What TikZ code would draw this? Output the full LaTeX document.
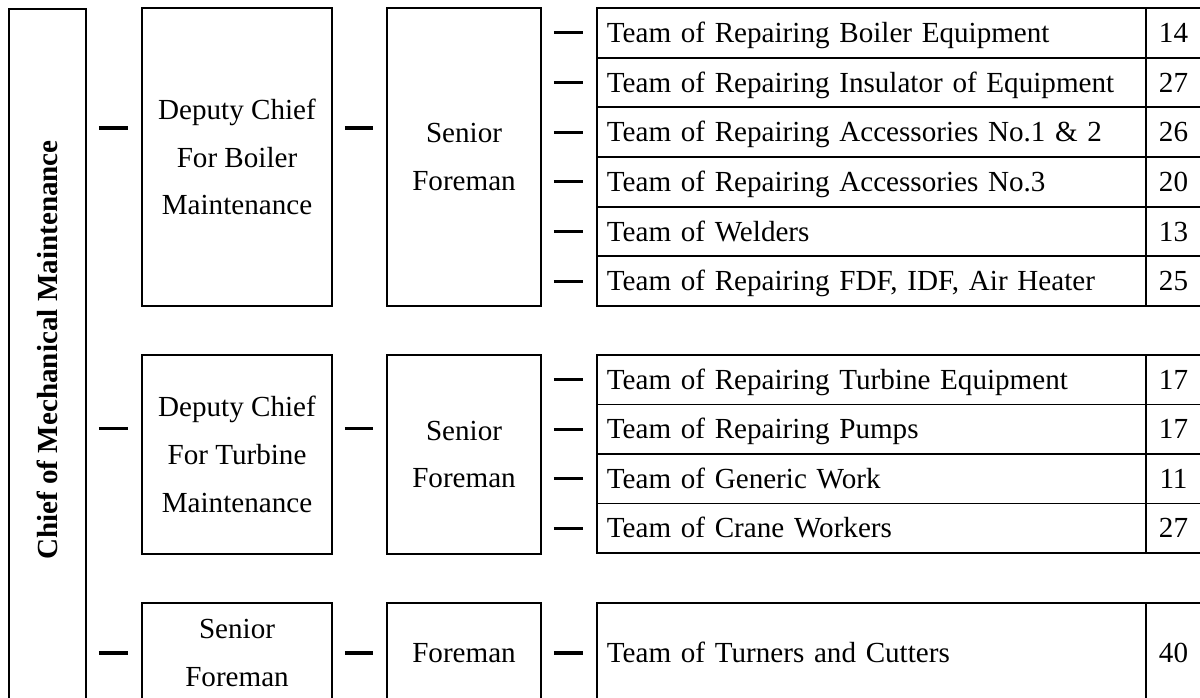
\documentclass[tikz,border=0pt]{standalone}
\usepackage{fontspec}
\setmainfont{Liberation Serif}
\usepackage{tikz}

\begin{document}
\begin{tikzpicture}[
    x=0.025cm, y=-0.025cm,
    every node/.style={font=\fontsize{20.7}{34}\selectfont},
    post/.style={draw, line width=1.3pt, align=center, inner sep=0pt},
    team/.style={draw, line width=1.3pt, text width=13.225cm, inner xsep=0.25cm, inner ysep=0pt, align=left,
                 text height=16pt, text depth=2.3pt},
    count/.style={draw, line width=1.3pt, minimum width=1.375cm, inner sep=0pt, text height=16pt, text depth=2.3pt},
    link/.style={line width=2.2pt, shorten <=8.5pt, shorten >=9.2pt}
]
  \clip (0,0) rectangle (1200,697);
  \fill[white] (0,0) rectangle (1200,697);

  % chief, runs the whole height
  \node[post, minimum width=1.925cm, minimum height=17.6cm, anchor=north] (chief) at (47.5,8) {};
  \node[rotate=90, font=\fontsize{20.7}{34}\selectfont\bfseries] (chieftext) at (47.5,350) {Chief of Mechanical Maintenance};

  % boiler branch
  \node[post, minimum width=4.75cm, minimum height=7.45cm] (dep1) at (237,157) {Deputy Chief\\For Boiler\\Maintenance};
  \node[post, minimum width=3.85cm, minimum height=7.45cm] (sen1) at (464,157) {Senior\\Foreman};
  \coordinate (bjoint) at ([yshift=20.6pt]dep1.west);
  \draw[link] (chief.east |- bjoint) -- (bjoint);
  \draw[link] (bjoint -| dep1.east) -- (bjoint -| sen1.west);
  \foreach \job/\staff [count=\i] in {Team of Repairing Boiler Equipment/14,
      Team of Repairing Insulator of Equipment/27,
      Team of Repairing Accessories No.1 \& 2/26,
      Team of Repairing Accessories No.3/20,
      Team of Welders/13,
      {Team of Repairing FDF, IDF, Air Heater}/25}{
    \node[team, minimum height=1.2417cm] (b\i) at (871.5,{8+(\i-0.5)*49.67}) {\job};
    \node[count, minimum height=1.2417cm] (nb\i) at (1173.5,{8+(\i-0.5)*49.67}) {\staff};
    \draw[link] (sen1.east |- b\i.west) -- (b\i.west);
  }

  % turbine branch
  \node[post, minimum width=4.75cm, minimum height=4.975cm] (dep2) at (237,454.5) {Deputy Chief\\For Turbine\\Maintenance};
  \node[post, minimum width=3.85cm, minimum height=4.975cm] (sen2) at (464,454.5) {Senior\\Foreman};
  \coordinate (tjoint) at ([yshift=18.8pt]dep2.west);
  \draw[link] (chief.east |- tjoint) -- (tjoint);
  \draw[link] (tjoint -| dep2.east) -- (tjoint -| sen2.west);
  \foreach \job/\staff [count=\i] in {Team of Repairing Turbine Equipment/17,
      Team of Repairing Pumps/17,
      Team of Generic Work/11,
      Team of Crane Workers/27}{
    \node[team, minimum height=1.2375cm] (t\i) at (871.5,{355+(\i-0.5)*49.5}) {\job};
    \node[count, minimum height=1.2375cm] (nt\i) at (1173.5,{355+(\i-0.5)*49.5}) {\staff};
    \draw[link] (sen2.east |- t\i.west) -- (t\i.west);
  }

  % workshop branch
  \node[post, minimum width=4.75cm, minimum height=2.5cm] (sen3) at (237,653) {Senior\\Foreman};
  \node[post, minimum width=3.85cm, minimum height=2.5cm] (fore) at (464,653) {Foreman};
  \node[team, minimum height=2.5cm] (turn) at (871.5,653) {Team of Turners and Cutters};
  \node[count, minimum height=2.5cm] (nturn) at (1173.5,653) {40};
  \draw[link] (chief.east |- sen3.west) -- (sen3.west);
  \draw[link] (sen3) -- (fore);
  \draw[link] (fore) -- (turn);
\end{tikzpicture}
\end{document}
